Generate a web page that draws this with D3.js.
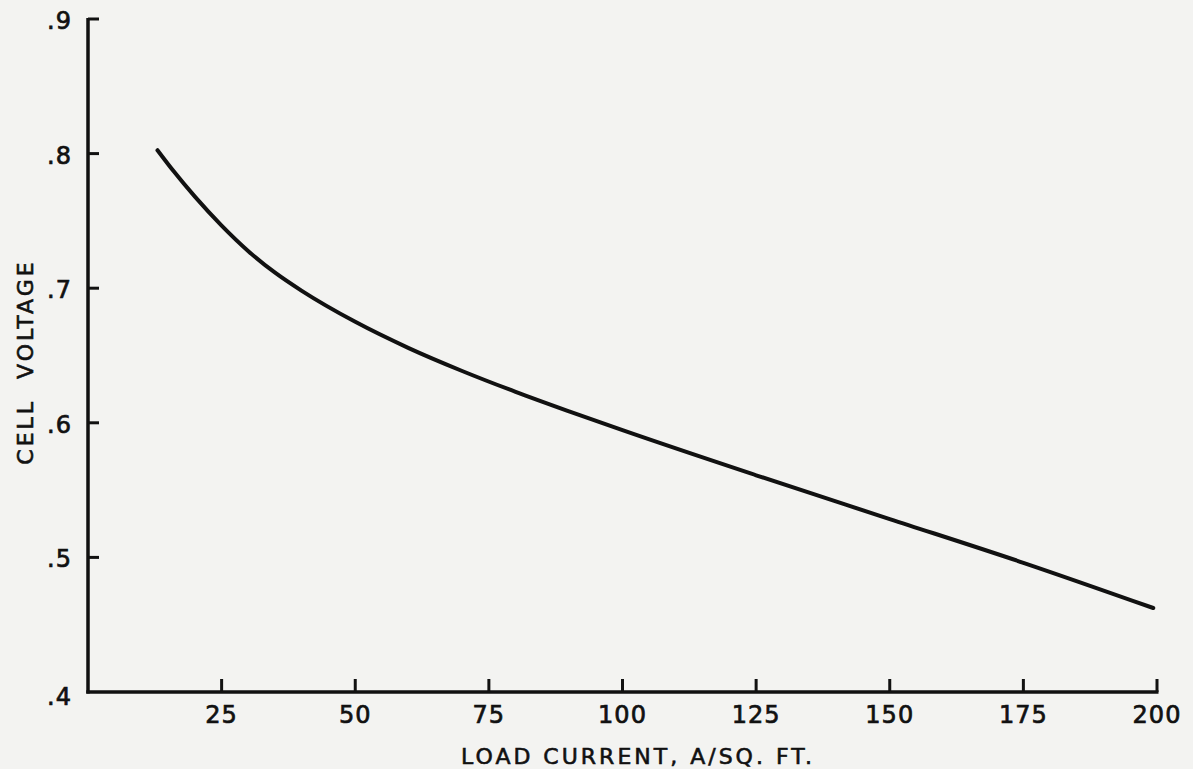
<!DOCTYPE html>
<html>
<head>
<meta charset="utf-8">
<title>Cell voltage vs load current</title>
<script src="https://d3js.org/d3.v7.min.js"></script>
<style>
html, body {
  margin: 0;
  padding: 0;
  background: #f3f3f1;
}
svg {
  display: block;
}
.tick-label {
  font: 24px "DejaVu Sans", sans-serif;
  fill: #111;
  stroke: #111;
  stroke-width: 0.7px;
  letter-spacing: 1px;
}
.axis-title {
  font: 22px "DejaVu Sans", sans-serif;
  fill: #111;
  stroke: #111;
  stroke-width: 0.6px;
  letter-spacing: 3px;
}
</style>
</head>
<body>
<svg id="chart" width="1193" height="769"></svg>
<script>

// values
var current = [13, 16, 20, 25, 30, 35, 40, 50, 60, 70, 80, 90, 100, 125, 150, 175, 199.3];
var voltage = [0.8025, 0.787, 0.768, 0.7465, 0.7275, 0.7115, 0.698, 0.675, 0.6555, 0.6385, 0.623, 0.6085, 0.5945, 0.561, 0.5285, 0.496, 0.4624];

var xTicks = [25, 50, 75, 100, 125, 150, 175, 200];
var xTickLabels = ["25", "50", "75", "100", "125", "150", "175", "200"];
var yTicks = [0.4, 0.5, 0.6, 0.7, 0.8, 0.9];
var yTickLabels = [".4", ".5", ".6", ".7", ".8", ".9"];

var xTitle = "LOAD CURRENT, A/SQ. FT.";
var yTitle = "CELL  VOLTAGE";

var svg = d3.select("#chart");
var ink = "#111";

var x = d3.scaleLinear().domain([0, 200]).range([88, 1157]);
var y = d3.scaleLinear().domain([0.4, 0.9]).range([692, 19]);

// y axis line + ticks (pointing inward)
var yAxis = svg.append("g");
yAxis.append("line")
    .attr("x1", x(0)).attr("x2", x(0))
    .attr("y1", y(0.9) - 1).attr("y2", y(0.4) + 1.5)
    .attr("stroke", ink).attr("stroke-width", 3.5);
yAxis.selectAll(".ytick")
    .data(yTicks.slice(1))
  .enter().append("line")
    .attr("class", "ytick")
    .attr("x1", x(0)).attr("x2", x(0) + 11)
    .attr("y1", function(d) { return y(d); })
    .attr("y2", function(d) { return y(d); })
    .attr("stroke", ink).attr("stroke-width", 3);
yAxis.selectAll(".tick-label")
    .data(yTicks)
  .enter().append("text")
    .attr("class", "tick-label")
    .attr("x", 72)
    .attr("y", function(d) { return y(d) + (d === 0.4 ? 13 : 10); })
    .attr("text-anchor", "end")
    .text(function(d, i) { return yTickLabels[i]; });

// x axis line + ticks (pointing up)
var xAxis = svg.append("g");
xAxis.append("line")
    .attr("x1", x(0) - 1.7).attr("x2", x(200) + 1.5)
    .attr("y1", y(0.4)).attr("y2", y(0.4))
    .attr("stroke", ink).attr("stroke-width", 3.5);
xAxis.selectAll(".xtick")
    .data(xTicks)
  .enter().append("line")
    .attr("class", "xtick")
    .attr("x1", function(d) { return x(d); })
    .attr("x2", function(d) { return x(d); })
    .attr("y1", y(0.4)).attr("y2", y(0.4) - 13)
    .attr("stroke", ink).attr("stroke-width", 3);
xAxis.selectAll(".tick-label")
    .data(xTicks)
  .enter().append("text")
    .attr("class", "tick-label")
    .attr("x", function(d) { return x(d); })
    .attr("y", 723)
    .attr("text-anchor", "middle")
    .text(function(d, i) { return xTickLabels[i]; });

// titles
svg.append("text")
    .attr("class", "axis-title")
    .attr("x", 638)
    .attr("y", 764)
    .attr("text-anchor", "middle")
    .text(xTitle);

svg.append("text")
    .attr("class", "axis-title")
    .attr("transform", "translate(33,362) rotate(-90)")
    .attr("text-anchor", "middle")
    .style("white-space", "pre")
    .text(yTitle);

// the curve
var pts = current.map(function(c, i) { return [c, voltage[i]]; });
var line = d3.line()
    .x(function(d) { return x(d[0]); })
    .y(function(d) { return y(d[1]); })
    .curve(d3.curveMonotoneX);

svg.append("path")
    .datum(pts)
    .attr("fill", "none")
    .attr("stroke", ink)
    .attr("stroke-width", 4)
    .attr("stroke-linecap", "round")
    .attr("d", line);

</script>
</body>
</html>
